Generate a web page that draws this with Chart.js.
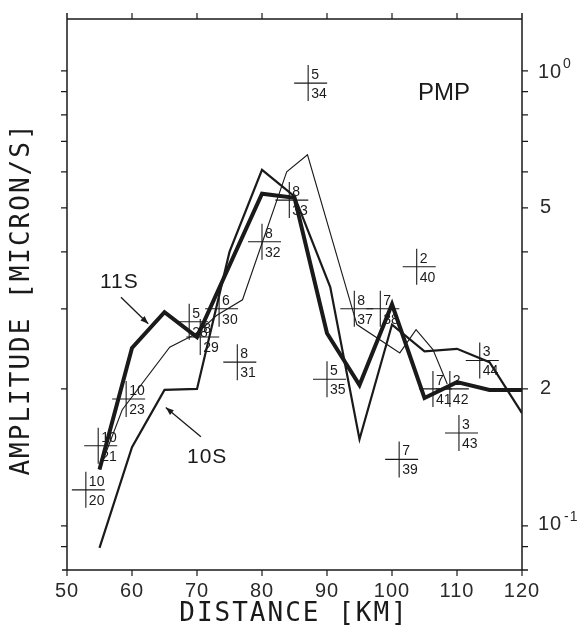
<!DOCTYPE html>
<html>
<head>
<meta charset="utf-8">
<script src="https://cdn.jsdelivr.net/npm/chart.js@4/dist/chart.umd.min.js"></script>
<style>
  html, body { margin: 0; padding: 0; background: #fff; }
  #wrap { width: 585px; height: 636px; }
</style>
</head>
<body>
<div id="wrap"><canvas id="chart" width="585" height="636"></canvas></div>
<script>
// --- data (distance km, amplitude micron/s) ---
const thickX = [55, 60, 65, 70, 80, 85, 90, 95, 100, 105, 110, 115, 120];
const thickY = [0.133, 0.246, 0.295, 0.26, 0.537, 0.526, 0.265, 0.204, 0.307, 0.191, 0.207, 0.199, 0.199];

const mediumX = [55, 60, 65, 70, 75, 80, 85, 90.5, 95, 100, 105, 110, 115, 120];
const mediumY = [0.0895, 0.149, 0.199, 0.2, 0.40, 0.606, 0.53, 0.335, 0.155, 0.277, 0.242, 0.245, 0.229, 0.177];

const thinX = [55, 58.5, 65.8, 70, 73, 77, 83.8, 87, 94.6, 101.2, 103.7, 106.3, 108.5];
const thinY = [0.133, 0.18, 0.247, 0.265, 0.29, 0.314, 0.60, 0.654, 0.277, 0.24, 0.27, 0.244, 0.205];

// station crosses: position + top / bottom numbers
const crossX = [52.9, 54.8, 59.1, 68.8, 70.5, 73.4, 76.2, 80, 84.2, 87.1, 90, 94.2, 98.2, 101.1, 103.8, 106.3, 108.9, 110.3, 113.5];
const crossY = [0.12, 0.15, 0.19, 0.281, 0.26, 0.30, 0.229, 0.421, 0.52, 0.94, 0.21, 0.30, 0.30, 0.14, 0.371, 0.2, 0.2, 0.16, 0.231];
const crossTop = ['10', '10', '10', '5', '8', '6', '8', '8', '8', '5', '5', '8', '7', '7', '2', '7', '2', '3', '3'];
const crossBottom = ['20', '21', '23', '28', '29', '30', '31', '32', '33', '34', '35', '37', '38', '39', '40', '41', '42', '43', '44'];

const xTicks = [50, 60, 70, 80, 90, 100, 110, 120];
const yMinorTicks = [0.09, 0.1, 0.2, 0.3, 0.4, 0.5, 0.6, 0.7, 0.8, 0.9, 1.0];

const INK = '#1a1a1a';

const toPts = (xs, ys) => xs.map((x, i) => ({ x, y: ys[i] }));

const lineSet = (xs, ys, w) => ({
    data: toPts(xs, ys),
    borderColor: INK,
    borderWidth: w,
    pointRadius: 0,
    tension: 0,
    borderJoinStyle: 'miter',
    fill: false
});

function arrow(ctx, x1, y1, x2, y2) {
    ctx.beginPath();
    ctx.moveTo(x1, y1);
    ctx.lineTo(x2, y2);
    ctx.lineWidth = 1.3;
    ctx.stroke();
    const a = Math.atan2(y2 - y1, x2 - x1);
    const L = 8, W = 3;
    ctx.beginPath();
    ctx.moveTo(x2, y2);
    ctx.lineTo(x2 - L * Math.cos(a) + W * Math.sin(a), y2 - L * Math.sin(a) - W * Math.cos(a));
    ctx.lineTo(x2 - L * Math.cos(a) - W * Math.sin(a), y2 - L * Math.sin(a) + W * Math.cos(a));
    ctx.closePath();
    ctx.fill();
}

const decorations = {
    id: 'decorations',
    afterDraw(chart) {
        const { ctx, chartArea: a, scales: { x, y } } = chart;
        ctx.save();
        ctx.strokeStyle = INK;
        ctx.fillStyle = INK;

        // frame
        ctx.lineWidth = 1.5;
        ctx.beginPath();
        ctx.moveTo(a.left, a.top - 6); ctx.lineTo(a.left, a.bottom);
        ctx.moveTo(a.right, a.top - 6); ctx.lineTo(a.right, a.bottom);
        ctx.moveTo(a.left, a.top); ctx.lineTo(a.right, a.top);
        ctx.moveTo(a.left - 5, a.bottom); ctx.lineTo(a.right + 6, a.bottom);
        ctx.stroke();

        // x ticks (bottom outward, top outward)
        ctx.lineWidth = 1.2;
        ctx.beginPath();
        xTicks.forEach(v => {
            const px = x.getPixelForValue(v);
            ctx.moveTo(px, a.bottom); ctx.lineTo(px, a.bottom + 6);
            if (v > 50 && v < 120) { ctx.moveTo(px, a.top); ctx.lineTo(px, a.top - 6); }
        });
        // y ticks on both sides, outward
        yMinorTicks.forEach(v => {
            const py = y.getPixelForValue(v);
            ctx.moveTo(a.left, py); ctx.lineTo(a.left - 6, py);
            ctx.moveTo(a.right, py); ctx.lineTo(a.right + 6, py);
        });
        ctx.stroke();

        // x tick labels
        ctx.fillStyle = '#2a2a2a';
        ctx.font = '20px "Liberation Sans"';
        ctx.letterSpacing = '1px';
        ctx.textAlign = 'center';
        ctx.textBaseline = 'alphabetic';
        xTicks.forEach(v => ctx.fillText(String(v), x.getPixelForValue(v), a.bottom + 27));

        // right y labels
        ctx.textAlign = 'left';
        ctx.textBaseline = 'middle';
        const ry = v => y.getPixelForValue(v);
        ctx.font = '20px "Liberation Sans"';
        ctx.fillText('10', a.right + 16, ry(1.0) + 2);
        ctx.fillText('5', a.right + 18, ry(0.5));
        ctx.fillText('2', a.right + 18, ry(0.2));
        ctx.fillText('10', a.right + 16, ry(0.1) - 1);
        ctx.font = '14px "Liberation Sans"';
        ctx.fillText('0', a.right + 41, ry(1.0) - 7);
        ctx.fillText('-1', a.right + 42, ry(0.1) - 9);
        ctx.letterSpacing = '0px';
        ctx.fillStyle = INK;

        // axis titles
        ctx.font = '26px "DejaVu Sans Mono"';
        ctx.letterSpacing = '2px';
        ctx.textAlign = 'center';
        ctx.textBaseline = 'middle';
        ctx.fillText('DISTANCE [KM]', 294, 614);
        ctx.save();
        ctx.translate(22, 299);
        ctx.rotate(-Math.PI / 2);
        ctx.fillText('AMPLITUDE [MICRON/S]', 0, 0);
        ctx.restore();
        ctx.letterSpacing = '0px';

        // station crosses
        ctx.lineWidth = 1.1;
        ctx.font = '14px "Liberation Sans"';
        ctx.textAlign = 'left';
        crossX.forEach((cxv, i) => {
            const cx = x.getPixelForValue(cxv);
            const cy = y.getPixelForValue(crossY[i]);
            ctx.beginPath();
            ctx.moveTo(cx - 14, cy); ctx.lineTo(cx + 19, cy);
            ctx.moveTo(cx, cy - 18); ctx.lineTo(cx, cy + 18);
            ctx.stroke();
            ctx.textBaseline = 'alphabetic';
            ctx.fillText(crossTop[i], cx + 3, cy - 4);
            ctx.textBaseline = 'top';
            ctx.fillText(crossBottom[i], cx + 3, cy + 4);
        });

        // annotations
        ctx.textBaseline = 'alphabetic';
        ctx.font = '24px "Liberation Sans"';
        ctx.fillText('PMP', 418, 100);
        ctx.font = '21px "Liberation Sans"';
        ctx.letterSpacing = '1px';
        ctx.fillText('11S', 100, 288);
        ctx.fillText('10S', 187, 463);
        ctx.letterSpacing = '0px';

        arrow(ctx, x.getPixelForValue(58.3), y.getPixelForValue(0.318), x.getPixelForValue(62.5), y.getPixelForValue(0.278));
        arrow(ctx, x.getPixelForValue(70.6), y.getPixelForValue(0.157), x.getPixelForValue(65.2), y.getPixelForValue(0.182));

        ctx.restore();
    }
};

new Chart(document.getElementById('chart'), {
    type: 'line',
    data: {
        datasets: [
            lineSet(thinX, thinY, 1.1),
            lineSet(mediumX, mediumY, 2.2),
            lineSet(thickX, thickY, 4)
        ]
    },
    options: {
        responsive: false,
        animation: false,
        layout: { padding: { left: 67, right: 63, top: 19, bottom: 66 } },
        plugins: { legend: { display: false }, tooltip: { enabled: false } },
        scales: {
            x: { type: 'linear', min: 50, max: 120, display: false },
            y: { type: 'logarithmic', min: 0.08, max: 1.3, display: false }
        }
    },
    plugins: [decorations]
});
</script>
</body>
</html>
